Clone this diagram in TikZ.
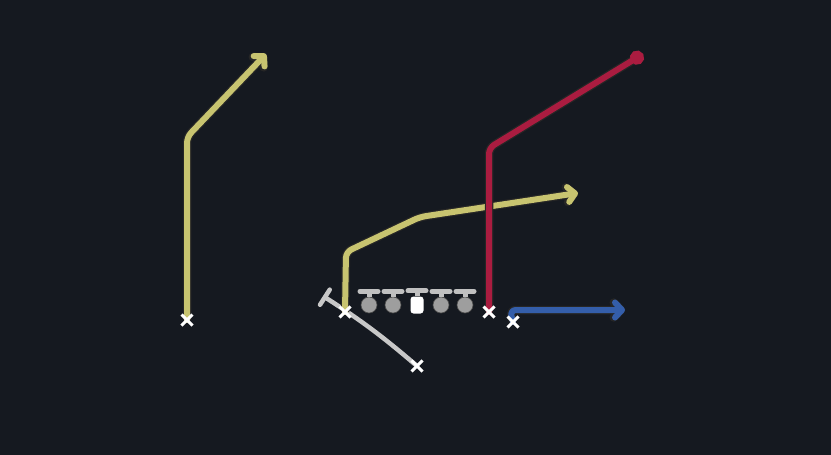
\documentclass[tikz,border=0pt]{standalone}
\usepackage{tikz}
\usetikzlibrary{shapes.misc,arrows.meta,positioning}

\definecolor{field}{RGB}{21,25,32}
\definecolor{routeyellow}{RGB}{200,196,112}
\definecolor{routered}{RGB}{170,28,64}
\definecolor{routeblue}{RGB}{52,94,170}
\definecolor{blockgray}{RGB}{200,200,200}
\definecolor{linegray}{RGB}{158,158,158}
\definecolor{stemgray}{RGB}{192,192,192}

\tikzstyle{player} = [cross out, draw=white, line width=3pt, minimum size=8pt, inner sep=0pt]
\tikzstyle{lineman} = [circle, fill=linegray, draw=black!70, line width=0.6pt, minimum size=16pt, inner sep=0pt, node distance=24pt]
\tikzstyle{snapper} = [rectangle, rounded corners=3pt, fill=white, minimum width=13pt, minimum height=17pt, inner sep=0pt, node distance=24pt]
\tikzstyle{stance} = [draw, stemgray, line width=5pt, -{Bar[width=18pt,round]}]
\tikzstyle{route} = [draw, line width=6pt, line cap=round, line join=round, rounded corners=6pt, preaction={draw=black!85, line width=8.5pt}]
\tikzstyle{pass} = [route, routeyellow, -{Straight Barb[length=7pt,width=15pt,round]}]
\tikzstyle{post} = [route, routered, -{Circle[length=14pt]}]
\tikzstyle{flat} = [route, routeblue, -{Straight Barb[length=7pt,width=15pt,round]}]
\tikzstyle{blockline} = [draw, blockgray, line width=4.5pt, -{Bar[width=18pt,round]}]

\begin{document}
\begin{tikzpicture}[x=1pt, y=-1pt]
	\fill [field] (0,0) rectangle (831,455);
	% line of scrimmage
	\node [snapper] (c) at (417,305) {};
	\node [lineman, left of=c] (lg) {};
	\node [lineman, left of=lg] (lt) {};
	\node [lineman, right of=c] (rg) {};
	\node [lineman, right of=rg] (rt) {};
	\path [stance] (lt.north) -- ++(0,-8);
	\path [stance] (lg.north) -- ++(0,-8);
	\path [stance] (c.north) -- ++(0,-8);
	\path [stance] (rg.north) -- ++(0,-8);
	\path [stance] (rt.north) -- ++(0,-8);
	
	\coordinate (wr) at (187,320);
	\coordinate (te) at (345,312);
	\coordinate (qb) at (417,366);
	\coordinate (slot) at (489,312);
	\coordinate (fl) at (513,322);
	
	\path [blockline] (qb) to [bend right=4] (323,296);
	\path [pass] (wr) -- (187,137) -- (266,54);
	\path [pass] (te) -- (346,252) -- (420,217) -- (578,193);
	\path [post] (slot) -- (489,148) -- (643,54);
	\path [flat] (fl) -- (510,310) -- (625,310);
	
	\node [player] (wrx) at (wr) {};
	\node [player] (tex) at (te) {};
	\node [player] (qbx) at (qb) {};
	\node [player] (slotx) at (slot) {};
	\node [player] (flx) at (fl) {};
\end{tikzpicture}
\end{document}
